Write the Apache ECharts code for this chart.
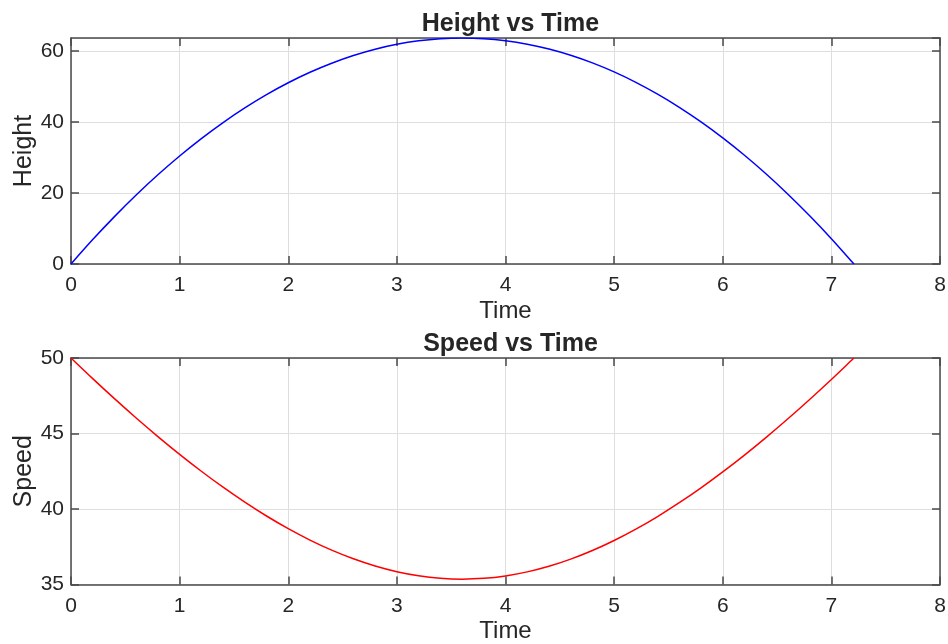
<!DOCTYPE html>
<html><head><meta charset="utf-8">
<script src="https://cdn.jsdelivr.net/npm/echarts@6/dist/echarts.min.js"></script>
<style>html,body{margin:0;padding:0;background:#fff}#c{width:948px;height:644px}</style>
</head><body><div id="c"></div>
<script>
const time = [0,0.2,0.4,0.6,0.8,1.0,1.2,1.4,1.6,1.8,2.0,2.2,2.4,2.6,2.8,3.0,3.2,3.4,3.6,3.8,4.0,4.2,4.4,4.6,4.8,5.0,5.2,5.4,5.6,5.8,6.0,6.2,6.4,6.6,6.8,7.0,7.2,7.208];
const height = [0,6.875,13.357,19.447,25.145,30.450,35.363,39.883,44.011,47.747,51.090,54.041,56.599,58.765,60.539,61.920,62.909,63.505,63.709,63.521,62.940,61.967,60.601,58.843,56.693,54.150,51.215,47.887,44.167,40.055,35.550,30.653,25.363,19.681,13.607,7.140,0.281,0];
const speed = [50,48.632,47.307,46.026,44.796,43.618,42.499,41.442,40.453,39.537,38.699,37.943,37.276,36.701,36.224,35.848,35.577,35.412,35.355,35.408,35.568,35.836,36.208,36.681,37.251,37.915,38.667,39.502,40.416,41.402,42.456,43.573,44.748,45.976,47.255,48.579,49.945,50];
const titles = ['Height vs Time','Speed vs Time'];
const yNames = ['Height','Speed'];
const xName = 'Time';

const FONT = 'Liberation Sans, Arial, Helvetica, sans-serif';
const txt = '#262626', axc = '#4a4a4a', grc = '#dedede';
const grids = [
  {left:71, right:8, top:38, height:226, outerBoundsMode:'none', containLabel:false},
  {left:71, right:8, top:358, height:226.5, outerBoundsMode:'none', containLabel:false}
];
function xAx(gi, top){
  return {type:'value', gridIndex:gi, min:0, max:8, interval:1, position: top?'top':'bottom',
    name: top?'':xName, nameLocation:'middle', nameGap:35, nameMoveOverlap:false,
    nameTextStyle:{fontFamily:FONT, fontSize:24, color:txt},
    axisLine:{show:true, onZero:false, lineStyle:{color:axc, width:1.5}},
    axisTick:{show:true, inside:true, length:8, lineStyle:{color:axc, width:1.5}},
    axisLabel:{show:!top, fontFamily:FONT, fontSize:21, color:txt, margin:11},
    splitLine:{show:!top, lineStyle:{color:grc, width:1}}};
}
function yAx(gi, right, min, max, interval){
  return {type:'value', gridIndex:gi, min:min, max:max, interval:interval, position: right?'right':'left',
    name: right?'':yNames[gi], nameLocation:'middle', nameGap:34, nameMoveOverlap:false,
    nameTextStyle:{fontFamily:FONT, fontSize:25, color:txt},
    axisLine:{show:true, onZero:false, lineStyle:{color:axc, width:1.5}},
    axisTick:{show:true, inside:true, length:8, lineStyle:{color:axc, width:1.5}},
    axisLabel:{show:!right, fontFamily:FONT, fontSize:21, color:txt, margin:7, showMaxLabel: max%interval===0},
    splitLine:{show:!right, lineStyle:{color:grc, width:1}}};
}
const chart = echarts.init(document.getElementById('c'), null, {renderer:'canvas'});
chart.setOption({
  animation:false,
  backgroundColor:'#fff',
  title:[
    {text:titles[0], left:505.5, textAlign:'center', top:7, textStyle:{fontFamily:FONT, fontSize:25, fontWeight:'bold', color:txt}},
    {text:titles[1], left:505.5, textAlign:'center', top:327, textStyle:{fontFamily:FONT, fontSize:25, fontWeight:'bold', color:txt}}
  ],
  grid:grids,
  xAxis:[xAx(0,false), xAx(1,false), xAx(0,true), xAx(1,true)],
  yAxis:[yAx(0,false,0,63.71,20), yAx(1,false,35,50,5), yAx(0,true,0,63.71,20), yAx(1,true,35,50,5)],
  series:[
    {type:'line', xAxisIndex:0, yAxisIndex:0, data:time.map((t,i)=>[t,height[i]]), showSymbol:false, smooth:0.3,
     lineStyle:{color:'#0000ff', width:1.5}, clip:true},
    {type:'line', xAxisIndex:1, yAxisIndex:1, data:time.map((t,i)=>[t,speed[i]]), showSymbol:false, smooth:0.3,
     lineStyle:{color:'#ff0000', width:1.5}, clip:true}
  ]
});
</script></body></html>
